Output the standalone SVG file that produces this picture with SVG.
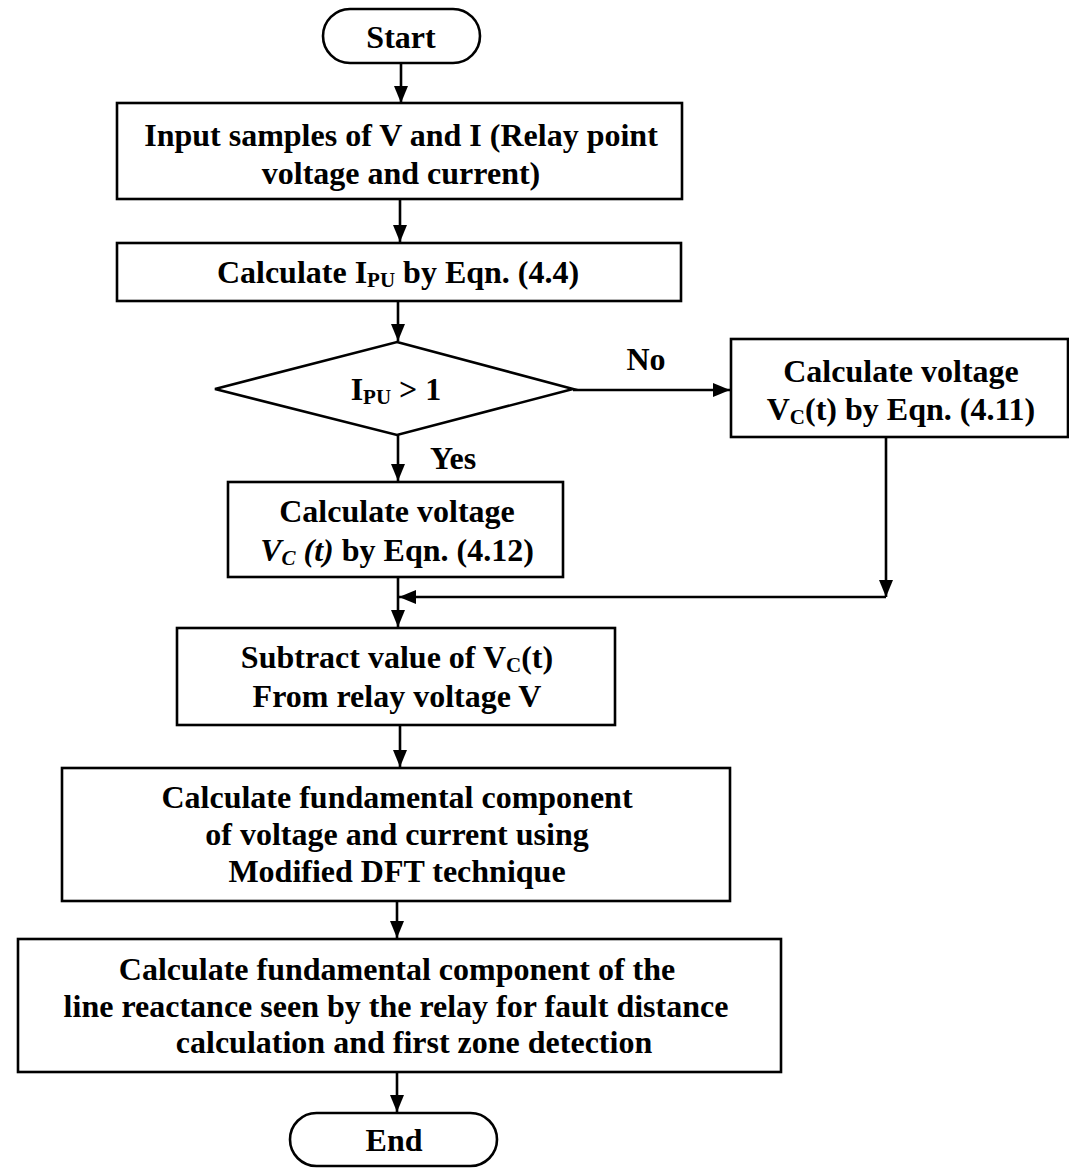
<svg xmlns="http://www.w3.org/2000/svg" width="1069" height="1170" viewBox="0 0 1069 1170">
<defs>
<style>
.shape{fill:#fff;stroke:#000;stroke-width:2.6}
.t{font-family:"Liberation Serif","Times New Roman",serif;font-weight:bold;font-size:32px;fill:#000;text-anchor:middle}
.s{font-size:21px}
.c{fill:none;stroke:#000;stroke-width:2.6}
</style>
<marker id="ah" markerUnits="userSpaceOnUse" markerWidth="18" markerHeight="14" refX="17" refY="7" orient="auto">
<path d="M0,0 L17,7 L0,14 Z" fill="#000"/>
</marker>
</defs>
<rect width="1069" height="1170" fill="#fff"/>

<g id="connectors">
<line class="c" x1="401" y1="63" x2="401" y2="103" marker-end="url(#ah)"/>
<line class="c" x1="400" y1="199" x2="400" y2="242" marker-end="url(#ah)"/>
<line class="c" x1="398" y1="301" x2="398" y2="341" marker-end="url(#ah)"/>
<line class="c" x1="398" y1="435" x2="398" y2="481" marker-end="url(#ah)"/>
<line class="c" x1="573" y1="390" x2="730" y2="390" marker-end="url(#ah)"/>
<line class="c" x1="886" y1="437" x2="886" y2="597" marker-end="url(#ah)"/>
<line class="c" x1="886" y1="597" x2="399" y2="597" marker-end="url(#ah)"/>
<line class="c" x1="398" y1="577" x2="398" y2="627" marker-end="url(#ah)"/>
<line class="c" x1="400" y1="725" x2="400" y2="767" marker-end="url(#ah)"/>
<line class="c" x1="397" y1="901" x2="397" y2="938" marker-end="url(#ah)"/>
<line class="c" x1="397" y1="1072" x2="397" y2="1112" marker-end="url(#ah)"/>
<text class="t" x="646" y="370">No</text>
<text class="t" x="453" y="469">Yes</text>
</g>

<g id="start">
<rect class="shape" x="323" y="9" width="157" height="54" rx="27" ry="27"/>
<text class="t" x="401" y="48">Start</text>
</g>

<g id="input">
<rect class="shape" x="117" y="103" width="565" height="96"/>
<text class="t" x="401" y="146">Input samples of V and I (Relay point</text>
<text class="t" x="401" y="184">voltage and current)</text>
</g>

<g id="calc-ipu">
<rect class="shape" x="117" y="243" width="564" height="58"/>
<text class="t" x="398" y="283">Calculate I<tspan class="s" dy="4">PU</tspan><tspan dy="-4"> by Eqn. (4.4)</tspan></text>
</g>

<g id="decision">
<polygon class="shape" points="397,342 573,389 397,435 215,389"/>
<text class="t" x="396" y="400">I<tspan class="s" dy="4">PU</tspan><tspan dy="-4"> &gt; 1</tspan></text>
</g>

<g id="calc-vc-412">
<rect class="shape" x="228" y="482" width="335" height="95"/>
<text class="t" x="397" y="522">Calculate voltage</text>
<text class="t" x="397" y="561"><tspan font-style="italic">V</tspan><tspan class="s" font-style="italic" dy="4">C</tspan><tspan font-style="italic" dy="-4"> (t)</tspan> by Eqn. (4.12)</text>
</g>

<g id="calc-vc-411">
<rect class="shape" x="731" y="339" width="337" height="98"/>
<text class="t" x="901" y="382">Calculate voltage</text>
<text class="t" x="901" y="420">V<tspan class="s" dy="4">C</tspan><tspan dy="-4">(t) by Eqn. (4.11)</tspan></text>
</g>

<g id="subtract">
<rect class="shape" x="177" y="628" width="438" height="97"/>
<text class="t" x="397" y="668">Subtract value of V<tspan class="s" dy="4">C</tspan><tspan dy="-4">(t)</tspan></text>
<text class="t" x="397" y="707">From relay voltage V</text>
</g>

<g id="fundamental">
<rect class="shape" x="62" y="768" width="668" height="133"/>
<text class="t" x="397" y="808">Calculate fundamental component</text>
<text class="t" x="397" y="845">of voltage and current using</text>
<text class="t" x="397" y="882">Modified DFT technique</text>
</g>

<g id="reactance">
<rect class="shape" x="18" y="939" width="763" height="133"/>
<text class="t" x="397" y="980">Calculate fundamental component of the</text>
<text class="t" x="396" y="1017">line reactance seen by the relay for fault distance</text>
<text class="t" x="414" y="1053">calculation and first zone detection</text>
</g>

<g id="end">
<rect class="shape" x="290" y="1113" width="207" height="53" rx="26.5" ry="26.5"/>
<text class="t" x="394" y="1151">End</text>
</g>
</svg>
